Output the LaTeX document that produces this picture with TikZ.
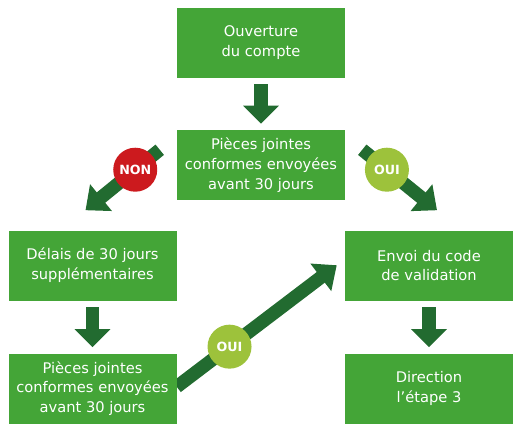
\documentclass[tikz,border=0pt]{standalone}
\usepackage{fontspec}
\setmainfont{DejaVu Sans}
\usetikzlibrary{arrows.meta,calc}
\definecolor{boxgreen}{HTML}{44A537}
\definecolor{arrowgreen}{HTML}{226B30}
\definecolor{nonred}{HTML}{CC1A1E}
\definecolor{ouigreen}{HTML}{9DC23B}
\begin{document}
\begin{tikzpicture}[x=0.75pt,y=-0.75pt,
    etape/.style={fill=boxgreen, text=white, minimum width=126pt, minimum height=52.5pt,
        inner sep=0pt, align=center, font=\fontsize{11}{14.8}\selectfont},
    bas/.style={draw=arrowgreen, line width=10pt, -{Triangle[length=13.5pt,width=26pt]}},
    diag/.style={draw=arrowgreen, line width=10pt, -{Triangle[length=15pt,width=25pt]}},
    pastille/.style={circle, minimum size=33pt, inner sep=0pt, text=white,
        font=\fontsize{9.5}{9.5}\bfseries\selectfont}]
\useasboundingbox (0,0) rectangle (522,426);

% les etapes
\node[etape] (ouverture) at (261,42.5) {Ouverture\\du compte};
\node[etape] (pieces) at (261,165) {Pièces jointes\\conformes envoyées\\avant 30 jours};
\node[etape] (envoi) at (429,265.5) {Envoi du code\\de validation};
\node[etape] (direction) at (429,388.5) {Direction\\l’étape 3};

% fleche du bas a gauche, sous les boites
\draw[diag] ($(ouverture.south west)+(0,309)$) -- node[pastille, fill=ouigreen, pos=0.33] (oui2) {OUI}
    ($(envoi.north west)+(-8,35)$);

\node[etape] (delais) at (92.5,265.5) {Délais de 30 jours\\supplémentaires};
\node[etape] (pieces2) at (92.5,388.5) {Pièces jointes\\conformes envoyées\\avant 30 jours};

% fleches verticales
\draw[bas, shorten <=5pt] (ouverture.south) -- ($(pieces.north)+(0,-6)$);
\draw[bas, shorten <=5pt] (delais.south) -- ($(pieces2.north)+(0,-6)$);
\draw[bas, shorten <=5pt] (envoi.south) -- ($(direction.north)+(0,-6)$);

% fleches en diagonale
\draw[diag] ($(pieces.north west)+(-17,20)$) -- node[pastille, fill=nonred, pos=0.33] (non) {NON}
    ($(delais.north)+(-7,-20)$);
\draw[diag] ($(pieces.north east)+(17,20)$) -- node[pastille, fill=ouigreen, pos=0.33] (oui1) {OUI}
    ($(envoi.north)+(8,-20)$);
\end{tikzpicture}
\end{document}
